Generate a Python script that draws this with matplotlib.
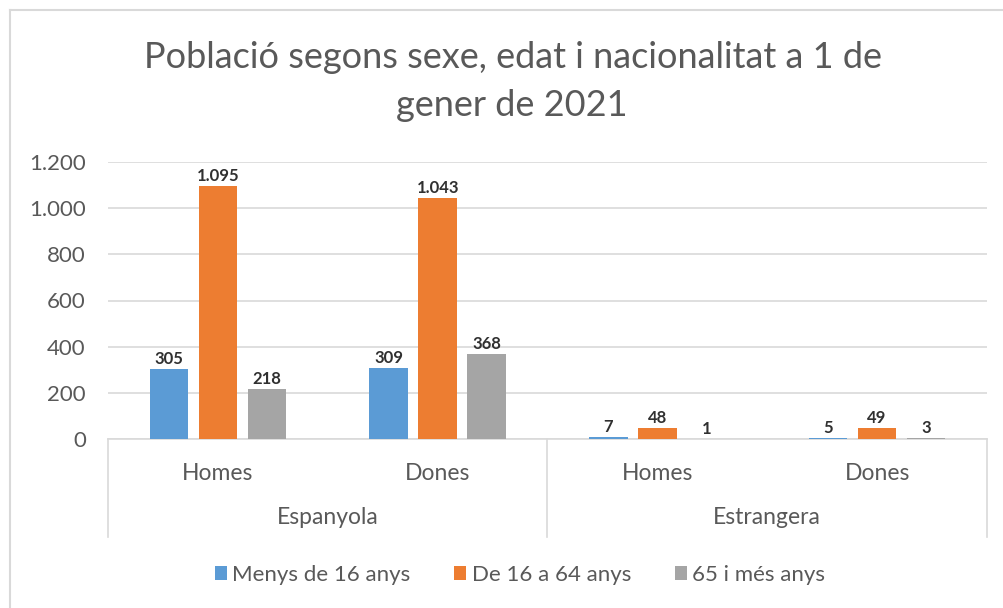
import numpy as np
import matplotlib
matplotlib.use("Agg")
import matplotlib.pyplot as plt
from matplotlib.ticker import FuncFormatter
from matplotlib.lines import Line2D
from matplotlib.patches import Patch

# ---- data ----
nationalities = ["Espanyola", "Estrangera"]
sexes = ["Homes", "Dones", "Homes", "Dones"]
series_names = ["Menys de 16 anys", "De 16 a 64 anys", "65 i més anys"]
menys_16 = [305, 309, 7, 5]
de_16_64 = [1095, 1043, 48, 49]
mes_65 = [218, 368, 1, 3]
yticks = [0, 200, 400, 600, 800, 1000, 1200]

colors = ["#5B9BD5", "#ED7D31", "#A5A5A5"]
grid_col = "#D9D9D9"
txt_col = "#595959"
FONT = "Lato"

plt.rcParams["font.family"] = [FONT, "DejaVu Sans"]

W, H = 1004, 608
fig = plt.figure(figsize=(W / 100, H / 100), dpi=100)

# plot area in pixels: x 108..987, y 162..439
ax = fig.add_axes([108 / W, (H - 439) / H, 879 / W, 277 / H])

x = np.arange(len(sexes))
bw = 0.175
off = 0.223
for i, vals in enumerate([menys_16, de_16_64, mes_65]):
    bars = ax.bar(x + (i - 1) * off, vals, width=bw, color=colors[i], zorder=3)
    for b, v in zip(bars, vals):
        lab = f"{v:,}".replace(",", ".")
        ax.annotate(lab, (b.get_x() + b.get_width() / 2, v), xytext=(0, 1.5),
                    textcoords="offset points", ha="center", va="bottom",
                    fontsize=12, fontweight="bold", color="#303030")

ax.set_xlim(-0.5, len(sexes) - 0.5)
ax.set_ylim(0, 1200)
ax.set_yticks(yticks)
ax.yaxis.set_major_formatter(FuncFormatter(lambda v, p: f"{int(v):,}".replace(",", ".")))
ax.tick_params(axis="y", length=0, labelsize=16, labelcolor=txt_col, pad=16)
ax.set_xticks([])
ax.grid(axis="y", color=grid_col, linewidth=1.2, zorder=0)
for s in ["top", "right", "left"]:
    ax.spines[s].set_visible(False)
ax.spines["bottom"].set_color(grid_col)
ax.spines["bottom"].set_linewidth(1.2)

# multi-level category axis
tr = ax.get_xaxis_transform()
depth = -(537 - 439) / 277
for xe in [-0.5, 1.5, 3.5]:
    ax.add_line(Line2D([xe, xe], [0, depth], transform=tr, color=grid_col,
                       linewidth=1.2, clip_on=False))
for xi, s in zip(x, sexes):
    ax.text(xi, -(480 - 439) / 277, s, transform=tr, ha="center", va="baseline",
            fontsize=16.5, color=txt_col)
for j, nat in enumerate(nationalities):
    ax.text(2 * j + 0.5, -(524 - 439) / 277, nat, transform=tr, ha="center",
            va="baseline", fontsize=16.5, color=txt_col)

# title
fig.text(513 / W, 1 - 68 / H, "Població segons sexe, edat i nacionalitat a 1 de",
         ha="center", va="baseline", fontsize=26, color=txt_col)
fig.text(512 / W, 1 - 116 / H, "gener de 2021", ha="center", va="baseline",
         fontsize=26, color=txt_col)

# legend
handles = [Patch(facecolor=c, edgecolor="none") for c in colors]
fig.legend(handles, series_names, loc="center", bbox_to_anchor=(520 / W, 1 - 575 / H),
           ncol=3, frameon=False, fontsize=16, labelcolor=txt_col,
           handlelength=0.55, handleheight=0.55, handletextpad=0.25, columnspacing=1.95)

# chart frame
fig.add_artist(Line2D([10 / W, 1], [1 - 10 / H, 1 - 10 / H], transform=fig.transFigure,
                      color=grid_col, linewidth=1.5))
fig.add_artist(Line2D([10 / W, 10 / W], [0, 1 - 10 / H], transform=fig.transFigure,
                      color=grid_col, linewidth=1.5))

fig.savefig("out.png", dpi=100, facecolor="white")
